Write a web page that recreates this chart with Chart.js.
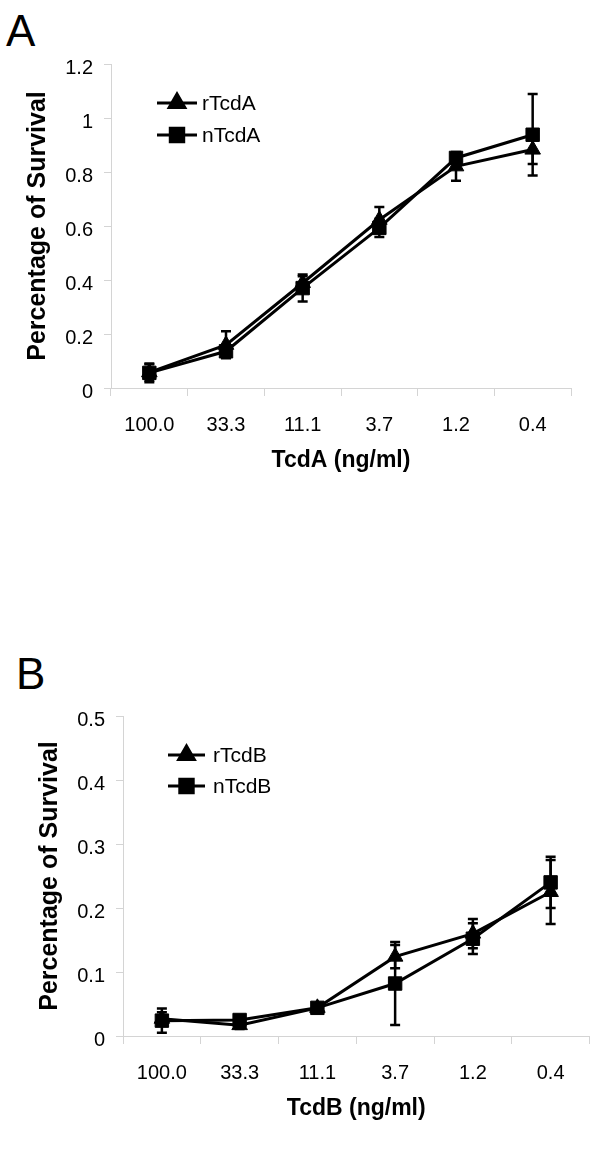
<!DOCTYPE html>
<html>
<head>
<meta charset="utf-8">
<script src="https://cdn.jsdelivr.net/npm/chart.js@4/dist/chart.umd.min.js"></script>
<style>
body { margin: 0; background: #fff; width: 600px; height: 1162px; position: relative; overflow: hidden; font-family: "Liberation Sans", Arial, sans-serif; }
.panel { position: absolute; font-size: 44px; line-height: 44px; color: #000; }
canvas { position: absolute; left: 0; }
</style>
</head>
<body>
<div class="panel" style="left:6px;top:9px">A</div>
<canvas id="chartA" width="600" height="500" style="top:0"></canvas>
<div class="panel" style="left:16px;top:652px">B</div>
<canvas id="chartB" width="600" height="500" style="top:640px"></canvas>
<script>
// dose categories (ng/ml)
var doseLabels = ['100.0', '33.3', '11.1', '3.7', '1.2', '0.4'];

// panel A
var rTcdA = [0.058, 0.16, 0.389, 0.623, 0.821, 0.883];
var rTcdAErr = [0.03, 0.05, 0.025, 0.047, 0.053, 0.053];
var nTcdA = [0.056, 0.136, 0.37, 0.593, 0.852, 0.938];
var nTcdAErr = [0.035, 0.015, 0.05, 0.034, 0.02, 0.151];

// panel B
var rTcdB = [0.027, 0.017, 0.044, 0.124, 0.160, 0.225];
var rTcdBErr = [0.01, 0.006, 0.004, 0.018, 0.023, 0.05];
var nTcdB = [0.024, 0.025, 0.044, 0.082, 0.152, 0.240];
var nTcdBErr = [0.019, 0.006, 0.004, 0.065, 0.024, 0.04];

var axisGray = '#d4d4d4';
Chart.defaults.font.family = '"Liberation Sans", Arial, sans-serif';
Chart.defaults.color = '#000';

// vertical error bars with caps, drawn under the markers
var errorBars = {
    id: 'errorBars',
    beforeDatasetsDraw: function(chart) {
        var ctx = chart.ctx, x = chart.scales.x, y = chart.scales.y;
        ctx.save();
        ctx.strokeStyle = '#000';
        ctx.lineWidth = 2.5;
        chart.data.datasets.forEach(function(ds) {
            ds.data.forEach(function(v, i) {
                var e = ds.err[i];
                var px = x.getPixelForValue(i);
                var top = y.getPixelForValue(v + e);
                var bot = y.getPixelForValue(v - e);
                ctx.beginPath();
                ctx.moveTo(px, top); ctx.lineTo(px, bot);
                ctx.moveTo(px - 5, top); ctx.lineTo(px + 5, top);
                ctx.moveTo(px - 5, bot); ctx.lineTo(px + 5, bot);
                ctx.stroke();
            });
        });
        ctx.restore();
    }
};

// legend drawn inside the plot area
var seriesKey = {
    id: 'seriesKey',
    afterDraw: function(chart, args, opts) {
        var ctx = chart.ctx;
        ctx.save();
        chart.data.datasets.forEach(function(ds, i) {
            var yy = opts.rows[i];
            ctx.strokeStyle = '#000';
            ctx.lineWidth = 3;
            ctx.beginPath();
            ctx.moveTo(opts.x0, yy); ctx.lineTo(opts.x1, yy);
            ctx.stroke();
            ctx.fillStyle = '#000';
            Chart.helpers.drawPoint(ctx, {pointStyle: ds.pointStyle, radius: ds.pointRadius, borderWidth: 1}, (opts.x0 + opts.x1) / 2, yy);
            ctx.font = '21px "Liberation Sans", Arial, sans-serif';
            ctx.textBaseline = 'middle';
            ctx.textAlign = 'left';
            ctx.fillText(ds.label, opts.textX, yy + 1);
        });
        ctx.restore();
    }
};

function series(label, values, errs, style) {
    return {
        label: label,
        data: values,
        err: errs,
        borderColor: '#000',
        borderWidth: 3,
        pointStyle: style,
        pointRadius: style === 'rect' ? 9.5 : 9,
        pointBackgroundColor: '#000',
        pointBorderColor: '#000',
        pointBorderWidth: 1,
        tension: 0,
        clip: false
    };
}

function options(p) {
    return {
        responsive: false,
        animation: false,
        devicePixelRatio: 1,
        layout: { padding: { left: 0, right: 600 - p.right, top: p.top, bottom: 0 } },
        plugins: {
            legend: { display: false },
            tooltip: { enabled: false },
            seriesKey: p.key
        },
        scales: {
            x: {
                type: 'category',
                offset: true,
                grid: { offset: true, drawOnChartArea: false, tickLength: 8, color: axisGray },
                border: { color: axisGray },
                ticks: { color: '#000', font: { size: 20 }, padding: 17, maxRotation: 0 },
                title: { display: true, text: p.xTitle, color: '#000', font: { size: 23, weight: 'bold' }, padding: { top: 0, bottom: p.xTitlePad } },
                afterFit: function(s) { s.height = p.xHeight; }
            },
            y: {
                min: 0,
                max: p.yMax,
                grid: { drawOnChartArea: false, tickLength: 7, color: axisGray },
                border: { color: axisGray },
                ticks: {
                    stepSize: p.yStep, color: '#000', font: { size: 20 }, padding: 11, labelOffset: 4,
                    callback: function(v) { return String(+v.toFixed(1)); }
                },
                title: { display: true, text: 'Percentage of Survival', color: '#000', font: { size: 25, weight: 'bold' }, padding: { top: p.yTitlePad, bottom: 0 } },
                afterFit: function(s) { s.width = p.left; }
            }
        }
    };
}

new Chart(document.getElementById('chartA').getContext('2d'), {
    type: 'line',
    data: {
        labels: doseLabels,
        datasets: [series('rTcdA', rTcdA, rTcdAErr, 'triangle'), series('nTcdA', nTcdA, nTcdAErr, 'rect')]
    },
    options: options({
        left: 111, right: 571, top: 64, xHeight: 112, xTitlePad: 26, yTitlePad: 23,
        yMax: 1.2, yStep: 0.2, xTitle: 'TcdA (ng/ml)',
        key: { x0: 157, x1: 197, textX: 202, rows: [103, 135] }
    }),
    plugins: [errorBars, seriesKey]
});

new Chart(document.getElementById('chartB').getContext('2d'), {
    type: 'line',
    data: {
        labels: doseLabels,
        datasets: [series('rTcdB', rTcdB, rTcdBErr, 'triangle'), series('nTcdB', nTcdB, nTcdBErr, 'rect')]
    },
    options: options({
        left: 123, right: 592, top: 76, xHeight: 104, xTitlePad: 18, yTitlePad: 35,
        yMax: 0.5, yStep: 0.1, xTitle: 'TcdB (ng/ml)',
        key: { x0: 168, x1: 205, textX: 213, rows: [115, 146] }
    }),
    plugins: [errorBars, seriesKey]
});
</script>
</body>
</html>
